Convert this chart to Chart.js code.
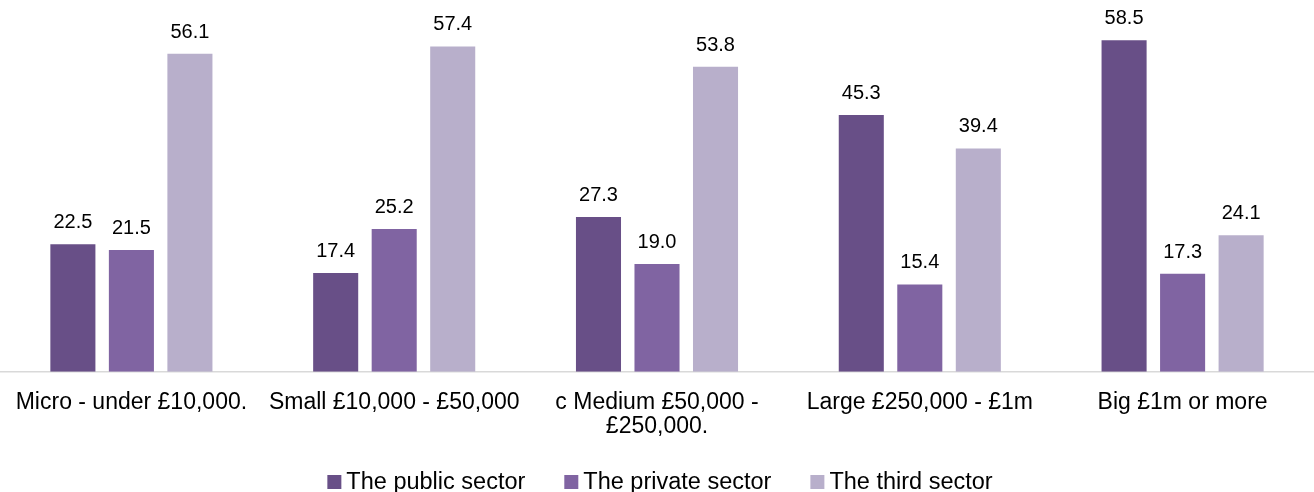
<!DOCTYPE html>
<html lang="en">
<head>
<meta charset="UTF-8">
<title>Sector by organisation size</title>
<script src="https://cdn.jsdelivr.net/npm/chart.js"></script>
<style>
    body { margin: 0; background: #fff; }
    .wrap { width: 1314px; height: 492px; position: relative; }
</style>
</head>
<body>
<div class="wrap"><canvas id="chart"></canvas></div>
<script>
    // Data
    const categories = [
        'Micro - under £10,000.',
        'Small £10,000 - £50,000',
        ['c Medium £50,000 -', '£250,000.'],
        'Large £250,000 - £1m',
        'Big £1m or more'
    ];
    const publicSector = [22.5, 17.4, 27.3, 45.3, 58.5];
    const privateSector = [21.5, 25.2, 19.0, 15.4, 17.3];
    const thirdSector = [56.1, 57.4, 53.8, 39.4, 24.1];

    const font = "'Liberation Sans', Arial, sans-serif";

    // Value labels above each bar
    const barLabels = {
        id: 'barLabels',
        afterDatasetsDraw(chart) {
            const ctx = chart.ctx;
            ctx.save();
            ctx.font = '20px ' + font;
            ctx.fillStyle = '#000';
            ctx.textAlign = 'center';
            ctx.textBaseline = 'alphabetic';
            chart.data.datasets.forEach((ds, i) => {
                chart.getDatasetMeta(i).data.forEach((bar, j) => {
                    ctx.fillText(ds.data[j].toFixed(1), bar.x, bar.y - 16);
                });
            });
            ctx.restore();
        }
    };

    // Legend drawn at the bottom, Excel style (small square, tight gap)
    const bottomLegend = {
        id: 'bottomLegend',
        afterDraw(chart) {
            const ctx = chart.ctx;
            const box = 14, gap = 5, spacing = 39;
            ctx.save();
            ctx.font = '23.5px ' + font;
            ctx.textBaseline = 'alphabetic';
            ctx.textAlign = 'left';
            const items = chart.data.datasets.map(ds => ({
                text: ds.label,
                color: ds.backgroundColor,
                w: box + gap + ctx.measureText(ds.label).width
            }));
            const total = items.reduce((s, it) => s + it.w, 0) + spacing * (items.length - 1);
            let x = chart.width / 2 + 3 - total / 2;
            const baseY = 489;
            items.forEach(it => {
                ctx.fillStyle = it.color;
                ctx.fillRect(x, baseY - box, box, box);
                ctx.fillStyle = '#000';
                ctx.fillText(it.text, x + box + gap, baseY);
                x += it.w + spacing;
            });
            ctx.restore();
        }
    };

    new Chart(document.getElementById('chart'), {
        type: 'bar',
        data: {
            labels: categories,
            datasets: [
                { label: 'The public sector', data: publicSector, backgroundColor: '#684F87' },
                { label: 'The private sector', data: privateSector, backgroundColor: '#8064A2' },
                { label: 'The third sector', data: thirdSector, backgroundColor: '#B8AFCB' }
            ]
        },
        options: {
            responsive: true,
            maintainAspectRatio: false,
            animation: false,
            layout: { padding: { top: 0, left: 0, right: 0, bottom: 42 } },
            datasets: {
                bar: { categoryPercentage: 0.668, barPercentage: 0.77 }
            },
            scales: {
                x: {
                    grid: { display: false },
                    border: { display: true, color: '#D9D9D9', width: 1.5 },
                    ticks: {
                        color: '#000',
                        font: { family: font, size: 23, lineHeight: 1.05 },
                        maxRotation: 0,
                        autoSkip: false,
                        padding: 11
                    }
                },
                y: {
                    display: false,
                    min: 0,
                    max: 65.6
                }
            },
            plugins: {
                legend: { display: false },
                tooltip: { enabled: false }
            }
        },
        plugins: [barLabels, bottomLegend]
    });
</script>
</body>
</html>
